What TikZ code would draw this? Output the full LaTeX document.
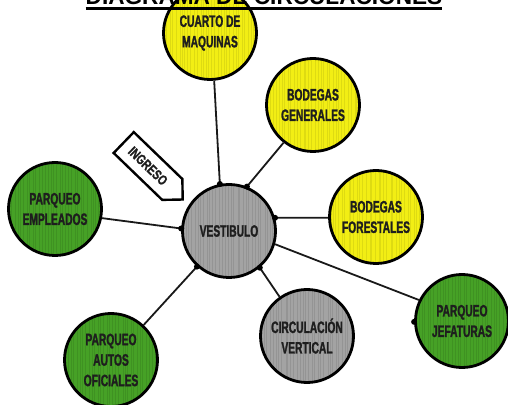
\documentclass[tikz,border=0pt]{standalone}
\usepackage{fontspec}
\setmainfont{Liberation Sans}
\newfontfamily\condfont{Liberation Sans}[FakeStretch=0.62,FakeBold=1.4]
\newfontfamily\tagfont{Liberation Sans}[FakeStretch=0.75,FakeBold=1.2]
\usetikzlibrary{shapes.symbols}

\definecolor{bubyellow}{HTML}{F2EE14}
\definecolor{bubgreen}{HTML}{46A126}
\definecolor{bubgray}{HTML}{A3A3A3}
\definecolor{inktext}{HTML}{1E1E1E}

\tikzset{
  streaks/.style={path picture={
    \foreach \k in {-50,-47,...,50}{
      \draw[#1,line width=0.7pt,opacity=0.2]
        ([xshift=\k pt+rnd*2pt,yshift=-55pt]path picture bounding box.center) -- ++(0pt,110pt);
    }}},
  bubble/.style={circle,draw=black,line width=2.8pt,minimum size=93pt,inner sep=0pt,
    align=center,text=inktext,font=\condfont\bfseries\fontsize{16.5}{20.5}\selectfont},
  yellowbub/.style={bubble,fill=bubyellow,streaks=black!40!bubyellow},
  greenbub/.style={bubble,fill=bubgreen,streaks=black!45!bubgreen},
  graybub/.style={bubble,fill=bubgray,streaks=black!45!bubgray},
  link/.style={draw=black!90,line width=1.8pt},
  joint/.style={circle,fill=black,inner sep=0pt,minimum size=6pt},
  tagbox/.style={signal,signal to=east,signal from=nowhere,draw=black,line width=2.4pt,
    fill=white,minimum width=82pt,minimum height=29pt,inner sep=0pt,
    text=inktext,font=\tagfont\bfseries\fontsize{14}{16}\selectfont}
}

\begin{document}
\begin{tikzpicture}[x=1pt,y=1pt]
\useasboundingbox[fill=white] (0,0) rectangle (508,404);

% bubbles
\node[yellowbub] (cuarto) at (210,371) {CUARTO DE\\MAQUINAS};
\node[yellowbub] (generales) at (313,299) {BODEGAS\\GENERALES};
\node[yellowbub] (forestales) at (376,187) {BODEGAS\\FORESTALES};
\node[graybub] (vestibulo) at (229,173) {VESTIBULO};
\node[greenbub] (empleados) at (55,195) {PARQUEO\\EMPLEADOS};
\node[greenbub] (autos) at (111,44) {PARQUEO\\AUTOS\\OFICIALES};
\node[graybub] (circulacion) at (307,68) {CIRCULACIÓN\\VERTICAL};
\node[greenbub] (jefaturas) at (462,83) {PARQUEO\\JEFATURAS};

% entrance tag
\node[tagbox,rotate=-44] (ingreso) at (148,238) {INGRESO};

% connectors
\draw[link] (cuarto.275) -- (vestibulo.101);
\draw[link] (generales.232) -- (vestibulo.68);
\draw[link] (forestales.181) -- (vestibulo.16);
\draw[link] (empleados.349) -- (vestibulo.177);
\draw[link] (autos.47) -- (vestibulo.228);
\draw[link] (circulacion.125) -- (vestibulo.310);
\draw[link] (jefaturas.154) -- (vestibulo.344);

% joints on the hall
\foreach \a in {101,68,16,177,228,310}{
  \node[joint] at (vestibulo.\a) {};
}
\node[joint] (jdot) at (jefaturas.181) {};

% title
\node[anchor=base,inner sep=0pt,font=\bfseries\fontsize{22.6}{26}\selectfont] (title) at (264,399)
  {DIAGRAMA DE CIRCULACIONES};
\draw[line width=2.5pt] ([yshift=-3.4pt]title.base west) -- ([yshift=-3.4pt]title.base east);
\end{tikzpicture}
\end{document}
